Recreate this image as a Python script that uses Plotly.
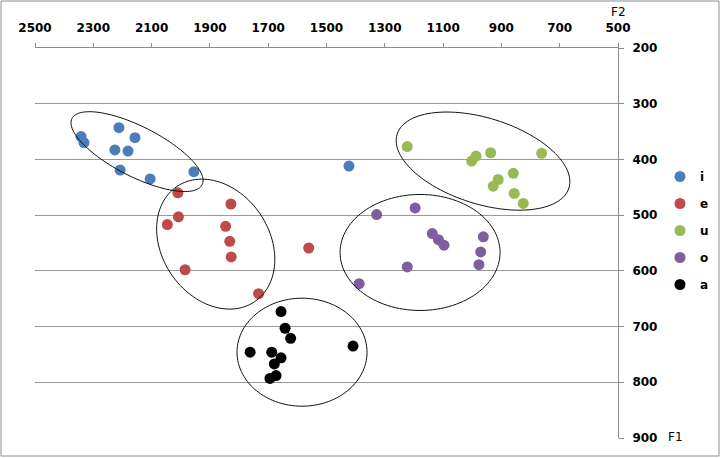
import numpy as np
import plotly.graph_objects as go

# ---- data (F2, F1 in Hz) ----
i_f2 = [2342, 2332, 2212, 2157, 2226, 2181, 2208, 2105, 1955, 1423]
i_f1 = [359, 370, 343, 361, 383, 385, 419, 435, 422, 412]

e_f2 = [2010, 1828, 2008, 2046, 1846, 1832, 1827, 1985, 1733, 1561]
e_f1 = [460, 480, 503, 517, 520, 547, 575, 598, 641, 559]

u_f2 = [1223, 987, 1002, 937, 762, 859, 911, 928, 856, 825]
u_f1 = [377, 394, 403, 388, 389, 425, 436, 448, 461, 479]

o_f2 = [1328, 1196, 1137, 1116, 1097, 962, 971, 977, 1223, 1388]
o_f1 = [499, 487, 533, 544, 554, 539, 566, 589, 593, 623]

a_f2 = [1656, 1642, 1623, 1762, 1688, 1656, 1679, 1694, 1673, 1409]
a_f1 = [673, 703, 721, 746, 746, 756, 767, 793, 788, 735]

vowels = ["i", "e", "u", "o", "a"]
colors = ["#4a7ebb", "#be4b48", "#98b954", "#7d5fa0", "#000000"]
series_f2 = [i_f2, e_f2, u_f2, o_f2, a_f2]
series_f1 = [i_f1, e_f1, u_f1, o_f1, a_f1]

# ellipse groupings: centre (F2, F1), semi-axes in px, tilt in degrees
ell_center_f2 = [2150, 1880, 963, 1179, 1584]
ell_center_f1 = [386, 552, 403, 567, 746]
ell_a_px = [73, 69.5, 90, 80, 65]
ell_b_px = [25, 53.7, 43, 58, 54]
ell_angle = [27, 56, 17.4, 0, 0]

x_ticks = list(range(2500, 499, -200))
y_ticks = list(range(200, 901, 100))

# ---- layout geometry ----
W, H = 721, 458
ML, MR, MT, MB = 35, 103, 48, 20
PW, PH = W - ML - MR, H - MT - MB
KX = PW / 2000.0
KY = PH / 700.0

fig = go.Figure()
for v, c, xs, ys in zip(vowels, colors, series_f2, series_f1):
    fig.add_trace(go.Scatter(
        x=xs, y=ys, mode="markers", name=v, legendgroup=v,
        marker=dict(color=c, size=11, line=dict(width=0)),
    ))

shapes = []
t = np.linspace(0, 2 * np.pi, 121)
for cx, cy, a, b, ang in zip(ell_center_f2, ell_center_f1, ell_a_px, ell_b_px, ell_angle):
    th = np.deg2rad(ang)
    dx = a * np.cos(t) * np.cos(th) - b * np.sin(t) * np.sin(th)
    dy = a * np.cos(t) * np.sin(th) + b * np.sin(t) * np.cos(th)
    xs = cx - dx / KX
    ys = cy + dy / KY
    path = "M " + " L ".join(f"{x:.2f},{y:.2f}" for x, y in zip(xs, ys)) + " Z"
    shapes.append(dict(type="path", xref="x", yref="y", path=path,
                       line=dict(color="#111111", width=1)))

# outer frame
shapes.append(dict(type="rect", xref="paper", yref="paper",
                   x0=(1 - ML) / PW, x1=(719 - ML) / PW,
                   y0=(MT + PH - 456) / PH, y1=(MT + PH - 1) / PH,
                   line=dict(color="#8c8c8c", width=1)))

tickfont = dict(family="DejaVu Sans", size=12, color="#000000", weight="bold")

fig.update_layout(
    width=W, height=H,
    margin=dict(l=ML, r=MR, t=MT, b=MB, autoexpand=False),
    paper_bgcolor="white", plot_bgcolor="white",
    showlegend=True,
    legend=dict(x=(660 - ML) / PW, xanchor="left",
                y=(MT + PH - 162) / PH, yanchor="top",
                font=dict(family="DejaVu Sans", size=12, color="#000", weight="bold"),
                tracegroupgap=8, bgcolor="rgba(0,0,0,0)"),
    xaxis=dict(range=[2500, 500], side="top", tickvals=x_ticks,
               ticks="outside", ticklen=4, tickcolor="#8c8c8c",
               showline=True, linecolor="#8c8c8c", linewidth=1,
               showgrid=False, zeroline=False, tickfont=tickfont,
               ticklabelstandoff=6),
    yaxis=dict(range=[900, 200], side="right", tickvals=y_ticks,
               ticks="outside", ticklen=5, tickcolor="#8c8c8c",
               showline=True, linecolor="#8c8c8c", linewidth=1,
               showgrid=True, gridcolor="#9a9a9a", gridwidth=1.3,
               zeroline=False, tickfont=tickfont, ticklabelstandoff=6),
    shapes=shapes,
    annotations=[
        dict(text="F2", xref="paper", yref="paper", x=1.0, y=(MT + PH - 12) / PH,
             showarrow=False, xanchor="center", yanchor="middle",
             font=dict(family="DejaVu Sans", size=12, color="#000")),
        dict(text="F1", xref="paper", yref="paper", x=(675 - ML) / PW,
             y=(MT + PH - 437) / PH, showarrow=False, xanchor="center",
             yanchor="middle", font=dict(family="DejaVu Sans", size=12, color="#000")),
    ],
)

fig.write_html("out.html")
